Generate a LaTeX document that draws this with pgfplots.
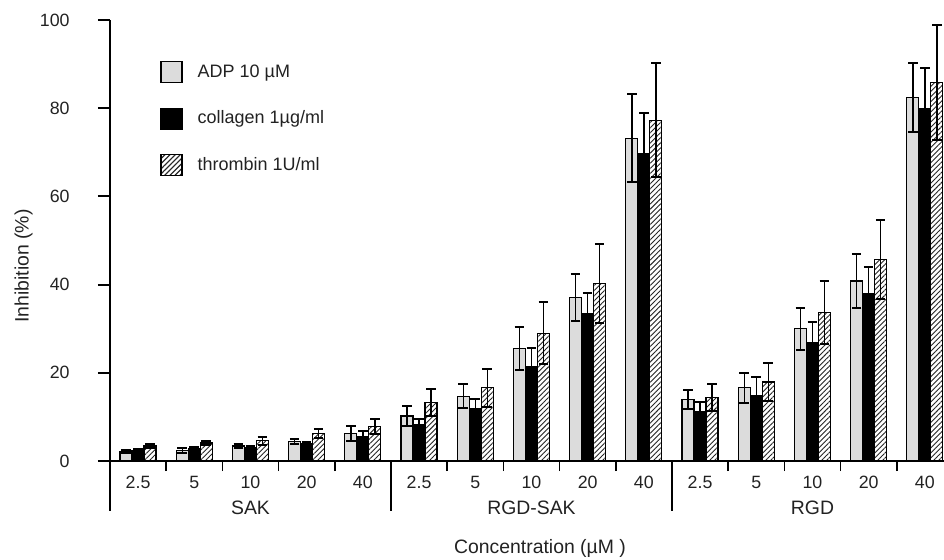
\documentclass[border=0pt]{standalone}
\usepackage{pgfplots}
\pgfplotsset{compat=1.18}
\usepackage{fontspec}
\setmainfont{Liberation Sans}
\usetikzlibrary{patterns.meta}
\definecolor{lgray}{HTML}{DCDCDC}
\definecolor{txt}{HTML}{222222}
\newcommand{\tickfont}{\fontsize{8.9}{10}\selectfont}
\newcommand{\labfont}{\fontsize{9.7}{11}\selectfont}
\begin{document}
\begin{tikzpicture}
\useasboundingbox (0,0) rectangle (472pt,279.5pt);
\begin{axis}[
  at={(55pt,49pt)}, anchor=south west, scale only axis,
  width=417pt, height=220.5pt,
  xmin=-0.5, xmax=14.34, ymin=0, ymax=100,
  axis lines*=left, axis line style={line width=1pt,-},
  clip=false,
  ybar=0pt, bar width=6pt,
  ytick={0,20,...,100},
  xtick={0,...,14},
  xticklabels={},
  minor xtick={0.5,1.5,2.5,3.5,5.5,6.5,7.5,8.5,10.5,11.5,12.5,13.5},
  tick align=outside,
  major tick length=6pt, minor tick length=5pt,
  major x tick style={draw=none},
  minor x tick style={line width=0.8pt, black},
  y tick style={line width=1pt, black},
  /pgf/number format/assume math mode=true,
  yticklabel style={anchor=east, inner sep=0pt, xshift=-14pt, font=\tickfont, text=txt},
  legend cell align=left,
  legend style={at={(0.06,0.909)}, anchor=north west, draw=none, fill=none,
    inner sep=0pt, row sep=11.3pt, font=\fontsize{9}{11}\selectfont, text=txt,
    /tikz/every odd column/.style={column sep=5.5pt}},
  error bars/y dir=both, error bars/y explicit,
  error bars/error bar style={line width=0.7pt, black},
  error bars/error mark options={rotate=90, line width=1pt, mark size=2.4pt, black},
]
\addplot[fill=lgray, draw=black, line width=0.6pt,
  legend image code/.code={\draw[fill=lgray, draw=black, line width=0.6pt] (0pt,-5.25pt) rectangle (10.5pt,5.25pt);}]
coordinates {
 (0,2.2) +- (0,0.4)
 (1,2.4) +- (0,0.5)
 (2,3.4) +- (0,0.4)
 (3,4.5) +- (0,0.6)
 (4,6.2) +- (0,1.7)
 (5,10.2) +- (0,2.2)
 (6,14.7) +- (0,2.7)
 (7,25.5) +- (0,4.8)
 (8,37.1) +- (0,5.4)
 (9,73.2) +- (0,10.0)
 (10,13.9) +- (0,2.1)
 (11,16.6) +- (0,3.4)
 (12,30.0) +- (0,4.8)
 (13,40.8) +- (0,6.1)
 (14,82.4) +- (0,7.9)
};
\addlegendentry{ADP 10 µM}
\addplot[fill=black, draw=black, line width=0.6pt,
  legend image code/.code={\draw[fill=black, draw=black, line width=0.6pt] (0pt,-5.25pt) rectangle (10.5pt,5.25pt);}]
coordinates {
 (0,2.3) +- (0,0.4)
 (1,2.9) +- (0,0.2)
 (2,3.1) +- (0,0.3)
 (3,3.9) +- (0,0.4)
 (4,5.5) +- (0,1.3)
 (5,8.3) +- (0,1.3)
 (6,11.9) +- (0,2.1)
 (7,21.3) +- (0,4.4)
 (8,33.4) +- (0,4.8)
 (9,69.8) +- (0,9.2)
 (10,11.3) +- (0,2.1)
 (11,14.8) +- (0,4.3)
 (12,26.9) +- (0,4.6)
 (13,38.0) +- (0,6.0)
 (14,80.0) +- (0,9.2)
};
\addlegendentry{collagen 1µg/ml}
\addplot[fill=white, postaction={pattern={Lines[angle=45,distance=1.8pt,line width=0.45pt]}, pattern color=black!85}, draw=black, line width=0.6pt,
  legend image code/.code={\draw[fill=white, postaction={pattern={Lines[angle=45,distance=1.8pt,line width=0.45pt]}, pattern color=black!85}, draw=black, line width=0.6pt] (0pt,-5.25pt) rectangle (10.5pt,5.25pt);}]
coordinates {
 (0,3.4) +- (0,0.5)
 (1,4.1) +- (0,0.5)
 (2,4.6) +- (0,0.9)
 (3,6.2) +- (0,1.0)
 (4,7.8) +- (0,1.7)
 (5,13.2) +- (0,3.1)
 (6,16.6) +- (0,4.3)
 (7,29.0) +- (0,7.0)
 (8,40.3) +- (0,9.0)
 (9,77.3) +- (0,13.0)
 (10,14.4) +- (0,3.0)
 (11,17.9) +- (0,4.3)
 (12,33.7) +- (0,7.1)
 (13,45.7) +- (0,8.9)
 (14,85.8) +- (0,13.1)
};
\addlegendentry{thrombin 1U/ml}
\draw[line width=0.8pt] (axis cs:-0.5,0) -- ++(0pt,-25pt);
\draw[line width=0.8pt] (axis cs:4.5,0) -- ++(0pt,-25pt);
\draw[line width=0.8pt] (axis cs:9.5,0) -- ++(0pt,-25pt);
\node[anchor=base, font=\tickfont, text=txt, yshift=-13.5pt] at (axis cs:0,0) {2.5};
\node[anchor=base, font=\tickfont, text=txt, yshift=-13.5pt] at (axis cs:1,0) {5};
\node[anchor=base, font=\tickfont, text=txt, yshift=-13.5pt] at (axis cs:2,0) {10};
\node[anchor=base, font=\tickfont, text=txt, yshift=-13.5pt] at (axis cs:3,0) {20};
\node[anchor=base, font=\tickfont, text=txt, yshift=-13.5pt] at (axis cs:4,0) {40};
\node[anchor=base, font=\tickfont, text=txt, yshift=-13.5pt] at (axis cs:5,0) {2.5};
\node[anchor=base, font=\tickfont, text=txt, yshift=-13.5pt] at (axis cs:6,0) {5};
\node[anchor=base, font=\tickfont, text=txt, yshift=-13.5pt] at (axis cs:7,0) {10};
\node[anchor=base, font=\tickfont, text=txt, yshift=-13.5pt] at (axis cs:8,0) {20};
\node[anchor=base, font=\tickfont, text=txt, yshift=-13.5pt] at (axis cs:9,0) {40};
\node[anchor=base, font=\tickfont, text=txt, yshift=-13.5pt] at (axis cs:10,0) {2.5};
\node[anchor=base, font=\tickfont, text=txt, yshift=-13.5pt] at (axis cs:11,0) {5};
\node[anchor=base, font=\tickfont, text=txt, yshift=-13.5pt] at (axis cs:12,0) {10};
\node[anchor=base, font=\tickfont, text=txt, yshift=-13.5pt] at (axis cs:13,0) {20};
\node[anchor=base, font=\tickfont, text=txt, yshift=-13.5pt] at (axis cs:14,0) {40};
\node[anchor=base, font=\labfont, text=txt, yshift=-26.5pt] at (axis cs:2,0) {SAK};
\node[anchor=base, font=\labfont, text=txt, yshift=-26.5pt] at (axis cs:7,0) {RGD-SAK};
\node[anchor=base, font=\labfont, text=txt, yshift=-26.5pt] at (axis cs:12,0) {RGD};
\end{axis}
\node[rotate=90, font=\labfont, text=txt] at (11.75pt,146.5pt) {Inhibition (\%)};
\node[anchor=base, font=\labfont, text=txt] at (270pt,3pt) {Concentration (µM )};
\end{tikzpicture}
\end{document}
